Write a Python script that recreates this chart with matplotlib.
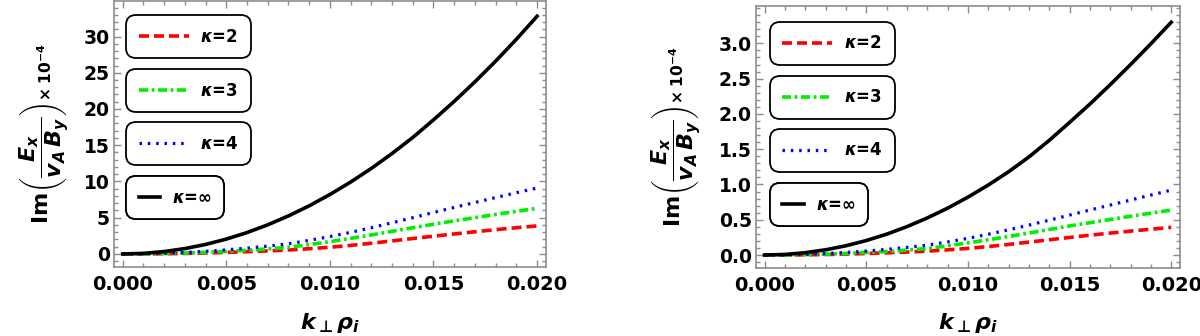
import matplotlib
matplotlib.use('Agg')
import matplotlib.pyplot as plt
from matplotlib.ticker import MultipleLocator, FormatStrFormatter
from matplotlib.font_manager import FontProperties

# ---------------- data ----------------
k_perp = [0.000, 0.001, 0.002, 0.003, 0.004, 0.005, 0.006, 0.007, 0.008, 0.009, 0.010,
          0.011, 0.012, 0.013, 0.014, 0.015, 0.016, 0.017, 0.018, 0.019, 0.020]

left_k2 = [0, 0.005, 0.03, 0.07, 0.13, 0.21, 0.31, 0.42, 0.55, 0.72, 0.92,
           1.18, 1.48, 1.80, 2.13, 2.45, 2.76, 3.06, 3.35, 3.62, 3.87]
left_k3 = [0, 0.01, 0.05, 0.12, 0.22, 0.35, 0.50, 0.70, 0.92, 1.28, 1.70,
           2.15, 2.62, 3.12, 3.62, 4.10, 4.56, 5.01, 5.45, 5.88, 6.30]
left_k4 = [0, 0.02, 0.09, 0.20, 0.36, 0.56, 0.80, 1.08, 1.40, 1.87, 2.40,
           2.98, 3.62, 4.30, 5.00, 5.72, 6.42, 7.10, 7.78, 8.45, 9.10]
left_kinf = [0, 0.08, 0.33, 0.74, 1.31, 2.05, 2.95, 4.02, 5.25, 6.64, 8.20,
             9.92, 11.80, 13.86, 16.07, 18.50, 21.05, 23.75, 26.60, 29.62, 32.80]

right_k2 = [0, 0.0005, 0.003, 0.007, 0.013, 0.021, 0.031, 0.042, 0.055, 0.073, 0.094,
            0.120, 0.150, 0.183, 0.216, 0.249, 0.281, 0.311, 0.339, 0.366, 0.392]
right_k3 = [0, 0.001, 0.005, 0.012, 0.022, 0.035, 0.050, 0.070, 0.092, 0.130, 0.172,
            0.216, 0.263, 0.312, 0.362, 0.412, 0.458, 0.504, 0.549, 0.594, 0.637]
right_k4 = [0, 0.002, 0.009, 0.020, 0.036, 0.056, 0.080, 0.108, 0.140, 0.185, 0.236,
            0.294, 0.357, 0.424, 0.494, 0.566, 0.638, 0.708, 0.779, 0.850, 0.920]
right_kinf = [0, 0.008, 0.033, 0.074, 0.131, 0.205, 0.295, 0.402, 0.525, 0.664, 0.820,
              0.992, 1.180, 1.390, 1.625, 1.880, 2.140, 2.415, 2.700, 2.995, 3.300]

legend_labels = [r'$\kappa$=2', r'$\kappa$=3', r'$\kappa$=4', r'$\kappa$=$\infty$']

left_ticks = [0, 5, 10, 15, 20, 25, 30]
right_ticks = [0.0, 0.5, 1.0, 1.5, 2.0, 2.5, 3.0]
x_ticks = [0.000, 0.005, 0.010, 0.015, 0.020]

# ---------------- style ----------------
plt.rcParams['font.family'] = ['DejaVu Sans']
plt.rcParams['font.weight'] = 'bold'
plt.rcParams['mathtext.fontset'] = 'custom'
plt.rcParams['mathtext.rm'] = 'DejaVu Sans:bold'
plt.rcParams['mathtext.it'] = 'DejaVu Sans:italic:bold'
plt.rcParams['mathtext.bf'] = 'DejaVu Sans:bold'
plt.rcParams['mathtext.sf'] = 'DejaVu Sans'
plt.rcParams['lines.scale_dashes'] = False

styles = [
    dict(color='#ff0000', lw=2.6, dashes=(7.2, 3.6)),
    dict(color='#00ee00', lw=2.6, dashes=(6.5, 2.6, 2.0, 2.6)),
    dict(color='#0000ff', lw=2.3, dashes=(1.8, 4.2)),
    dict(color='black', lw=2.6, linestyle='-'),
]
handle_lengths = [3.0, 3.0, 3.0, 1.3]
frame_grey = '#8c8c8c'

fig = plt.figure(figsize=(12, 3.36), dpi=100)
ax1 = fig.add_axes([114/1200, 1 - 267/336, 432/1200, 266/336])
ax2 = fig.add_axes([756/1200, 1 - 268/336, 424/1200, 262/336])

ylabel = r'$\mathrm{Im}\left(\dfrac{E_x}{v_A\,B_y}\right)_{\!\times 10^{-4}}$'
xlabel = r'$k_{\mathsf{\bot}}\rho_i$'


def draw_panel(ax, series, yticks, ylim, yminor, yfmt, leg_x, leg_tops, ylab_x):
    lines = []
    for vals, st in zip(series, styles):
        ln, = ax.plot(k_perp, vals, **st)
        lines.append(ln)
    ax.set_xlim(-0.00042, 0.02043)
    ax.set_ylim(*ylim)
    ax.set_xticks(x_ticks)
    ax.xaxis.set_major_formatter(FormatStrFormatter('%.3f'))
    ax.xaxis.set_minor_locator(MultipleLocator(0.001))
    ax.set_yticks(yticks)
    ax.yaxis.set_major_formatter(FormatStrFormatter(yfmt))
    ax.yaxis.set_minor_locator(MultipleLocator(yminor))
    ax.tick_params(which='both', direction='in', top=True, right=True, color=frame_grey,
                   width=1.0)
    ax.tick_params(which='major', length=4.8)
    ax.tick_params(which='minor', length=2.6)
    ax.tick_params(axis='x', which='major', labelsize=14, pad=6)
    ax.tick_params(axis='y', which='major', labelsize=13.5, pad=3)
    for lab in ax.get_xticklabels() + ax.get_yticklabels():
        lab.set_fontweight('bold')
    for sp in ax.spines.values():
        sp.set_color(frame_grey)
        sp.set_linewidth(1.2)
    ax.set_xlabel(xlabel, fontsize=16)
    ax.xaxis.set_label_coords(0.5, -0.165)
    ax.set_ylabel(ylabel, fontsize=16)
    ax.yaxis.set_label_coords(ylab_x, 0.5)

    for ln, lab, top, hl in zip(lines, legend_labels, leg_tops, handle_lengths):
        leg = ax.legend([ln], [lab], loc='upper left', bbox_to_anchor=(leg_x, top),
                        bbox_transform=ax.transAxes, borderaxespad=0, borderpad=0.75,
                        handlelength=hl, handletextpad=0.7, frameon=True, fancybox=True,
                        framealpha=1, edgecolor='black', facecolor='white',
                        prop=dict(weight='bold', size=12))
        fr = leg.get_frame()
        fr.set_linewidth(1.3)
        fr.set_boxstyle('round,pad=0,rounding_size=0.6')
        ax.add_artist(leg)


draw_panel(ax1, [left_k2, left_k3, left_k4, left_kinf], left_ticks, (-1.8, 34.9),
           1, '%d', 0.028, [0.947, 0.744, 0.545, 0.342], -0.1)
draw_panel(ax2, [right_k2, right_k3, right_k4, right_kinf], right_ticks, (-0.184, 3.53),
           0.1, '%.1f', 0.033, [0.939, 0.733, 0.531, 0.324], -0.125)

fig.savefig('out.png', dpi=100)
